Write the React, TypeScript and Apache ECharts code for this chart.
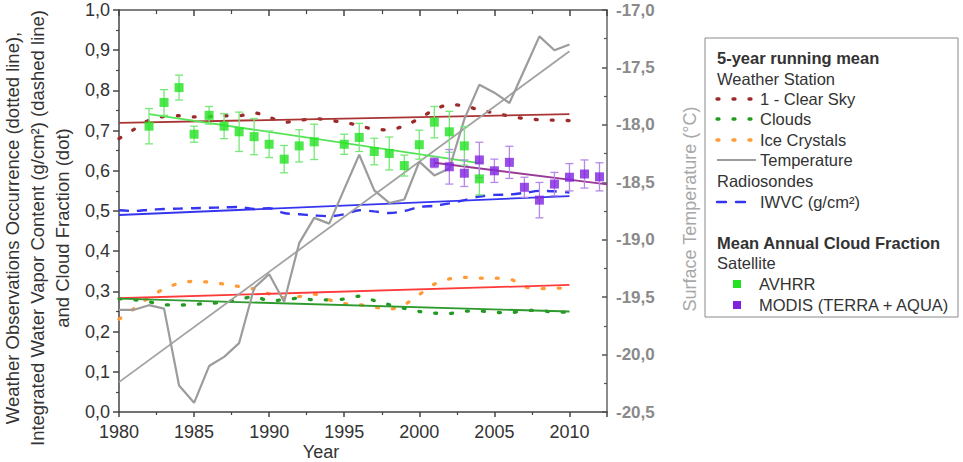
import React, { useEffect, useRef } from "react";
import * as echarts from "echarts";

// ---- data ----
const years = [1980, 1981, 1982, 1983, 1984, 1985, 1986, 1987, 1988, 1989, 1990, 1991, 1992, 1993, 1994, 1995, 1996, 1997, 1998, 1999, 2000, 2001, 2002, 2003, 2004, 2005, 2006, 2007, 2008, 2009, 2010];

// 5-year running means (weather station)
const clearSky = [0.680, 0.703, 0.726, 0.735, 0.737, 0.734, 0.735, 0.737, 0.737, 0.744, 0.733, 0.721, 0.725, 0.730, 0.726, 0.720, 0.713, 0.703, 0.702, 0.712, 0.730, 0.752, 0.764, 0.762, 0.751, 0.744, 0.736, 0.730, 0.727, 0.726, 0.725];
const clouds = [0.282, 0.279, 0.274, 0.267, 0.266, 0.268, 0.270, 0.273, 0.280, 0.287, 0.277, 0.279, 0.283, 0.279, 0.279, 0.281, 0.288, 0.277, 0.267, 0.258, 0.250, 0.246, 0.245, 0.251, 0.251, 0.248, 0.247, 0.252, 0.253, 0.248, 0.249];
const iceCrystals = [0.231, 0.257, 0.285, 0.306, 0.320, 0.325, 0.323, 0.318, 0.312, 0.306, 0.294, 0.284, 0.287, 0.293, 0.279, 0.270, 0.267, 0.261, 0.256, 0.267, 0.292, 0.318, 0.331, 0.335, 0.333, 0.333, 0.331, 0.312, 0.307, 0.308, 0.309];
const temperature = [-19.61, -19.61, -19.57, -19.60, -20.27, -20.42, -20.10, -20.02, -19.90, -19.42, -19.30, -19.54, -19.03, -18.81, -18.86, -18.56, -18.26, -18.57, -18.68, -18.65, -18.32, -18.44, -18.38, -17.95, -17.65, -17.72, -17.81, -17.52, -17.23, -17.35, -17.30];
// radiosondes
const iwvc = [0.502, 0.500, 0.503, 0.505, 0.506, 0.507, 0.508, 0.509, 0.510, 0.505, 0.507, 0.495, 0.492, 0.489, 0.487, 0.492, 0.502, 0.499, 0.495, 0.500, 0.510, 0.513, 0.519, 0.527, 0.536, 0.540, 0.541, 0.545, 0.550, 0.549, 0.546];

// satellite mean annual cloud fraction
const avhrrYears = [1982, 1983, 1984, 1985, 1986, 1987, 1988, 1989, 1990, 1991, 1992, 1993, 1995, 1996, 1997, 1998, 1999, 2000, 2001, 2002, 2003, 2004];
const avhrrValues = [0.711, 0.770, 0.807, 0.691, 0.738, 0.711, 0.697, 0.685, 0.666, 0.629, 0.662, 0.672, 0.666, 0.683, 0.648, 0.643, 0.613, 0.665, 0.721, 0.697, 0.662, 0.580];
const avhrrErrors = [0.044, 0.032, 0.031, 0.020, 0.022, 0.031, 0.049, 0.045, 0.033, 0.034, 0.040, 0.044, 0.025, 0.035, 0.033, 0.041, 0.026, 0.036, 0.039, 0.051, 0.048, 0.040];
const modisYears = [2001, 2002, 2003, 2004, 2005, 2006, 2007, 2008, 2009, 2010, 2011, 2012];
const modisValues = [0.620, 0.610, 0.594, 0.627, 0.600, 0.621, 0.559, 0.527, 0.567, 0.584, 0.592, 0.585];
const modisErrors = [0.012, 0.043, 0.033, 0.044, 0.029, 0.040, 0.025, 0.044, 0.029, 0.034, 0.035, 0.035];

// linear trends (start/end points)
const trendClearSkyX = [1980, 2010];
const trendClearSkyY = [0.719, 0.741];
const trendIceX = [1980, 2010];
const trendIceY = [0.283, 0.316];
const trendCloudsX = [1980, 2010];
const trendCloudsY = [0.282, 0.250];
const trendIwvcX = [1980, 2010];
const trendIwvcY = [0.490, 0.537];
const trendTempX = [1980, 2010];
const trendTempY = [-20.24, -17.36];
const trendAvhrrX = [1982, 2004];
const trendAvhrrY = [0.741, 0.619];
const trendModisX = [2001, 2012.5];
const trendModisY = [0.620, 0.566];

// axis ticks
const xMin = 1980, xMax = 2012.5, xStep = 5;
const yMin = 0, yMax = 1, yStep = 0.1;
const tMin = -20.5, tMax = -17.0, tStep = 0.5;

const FONT = "'Liberation Sans', Arial, Helvetica, sans-serif";

const C = {
  clearSky: "#9c2a2a",
  clearSkyTrend: "#a83434",
  clouds: "#229a22",
  cloudsTrend: "#2e9a2e",
  ice: "#ff9a35",
  iceTrend: "#ff3b3b",
  temp: "#9c9c9c",
  iwvc: "#3535f0",
  avhrr: "#22e222",
  avhrrTrend: "#55e455",
  avhrrErr: "#77e877",
  modis: "#7f22e0",
  modisTrend: "#9a3a96",
  modisErr: "#b58ae6",
};

const pair = (xs: number[], ys: number[]) => xs.map((x, i) => [x, ys[i]]);
const comma = (v: number) => v.toFixed(1).replace(".", ",");

const dotted = (color: string) => ({ color, width: 3.3, type: [2, 14] as number[], cap: "round" as const });

function errorBars(xs: number[], vs: number[], es: number[], color: string) {
  return {
    type: "custom",
    xAxisIndex: 0,
    yAxisIndex: 0,
    z: 8,
    silent: true,
    data: xs.map((x, i) => [x, vs[i] - es[i], vs[i] + es[i]]),
    encode: { x: 0, y: [1, 2] },
    renderItem: (_p: any, api: any) => {
      const x = api.value(0);
      const lo = api.coord([x, api.value(1)]);
      const hi = api.coord([x, api.value(2)]);
      const hw = 4;
      const style = { stroke: color, lineWidth: 1.3 };
      return {
        type: "group",
        children: [
          { type: "line", shape: { x1: lo[0], y1: lo[1], x2: hi[0], y2: hi[1] }, style },
          { type: "line", shape: { x1: lo[0] - hw, y1: lo[1], x2: lo[0] + hw, y2: lo[1] }, style },
          { type: "line", shape: { x1: hi[0] - hw, y1: hi[1], x2: hi[0] + hw, y2: hi[1] }, style },
        ],
      };
    },
  };
}

function trend(xs: number[], ys: number[], color: string, yAxisIndex = 0, width = 1.8) {
  return {
    type: "line",
    xAxisIndex: 0,
    yAxisIndex,
    data: pair(xs, ys),
    symbol: "none",
    silent: true,
    z: 4,
    lineStyle: { color, width },
  };
}

function buildOption() {
  const legendX = 717;
  const itemX = 760;
  const txt = (text: string, x: number, y: number, bold = false) => ({
    type: "text",
    x,
    y,
    style: {
      text,
      fill: "#333",
      font: `${bold ? "bold " : ""}16.5px ${FONT}`,
      verticalAlign: "middle",
      align: "left",
    },
  });
  const sampleLine = (y: number, x2: number, stroke: string, dash: number[] | null, width: number) => ({
    type: "line",
    shape: { x1: legendX, y1: y, x2, y2: y },
    style: { stroke, lineWidth: width, lineDash: dash || undefined, lineCap: dash ? "round" : "butt" },
  });
  const dotSample = (y: number, stroke: string) => ({
    type: "line",
    shape: { x1: legendX, y1: y, x2: 751, y2: y },
    style: { stroke, lineWidth: 3.3, lineDash: [2, 14], lineCap: "round" },
  });

  const graphic: any[] = [
    {
      type: "text",
      x: 37,
      y: 228,
      rotation: Math.PI / 2,
      style: {
        text: "Weather Observations Occurrence (dotted line),\nIntegrated Water Vapor Content (g/cm²) (dashed line)\nand Cloud Fraction (dot)",
        fill: "#333",
        font: `18.5px ${FONT}`,
        align: "center",
        verticalAlign: "middle",
        lineHeight: 25,
      },
    },
    {
      type: "text",
      x: 690,
      y: 209,
      rotation: Math.PI / 2,
      style: {
        text: "Surface Temperature (°C)",
        fill: "#a8a8a8",
        font: `18px ${FONT}`,
        align: "center",
        verticalAlign: "middle",
      },
    },
    {
      type: "text",
      x: 321,
      y: 452,
      style: { text: "Year", fill: "#333", font: `18px ${FONT}`, align: "center", verticalAlign: "middle" },
    },
    {
      type: "rect",
      shape: { x: 705, y: 38, width: 253, height: 279 },
      style: { fill: "#fff", stroke: "#8a8a8a", lineWidth: 1 },
    },
    txt("5-year running mean", legendX, 58, true),
    txt("Weather Station", legendX, 79),
    dotSample(99, C.clearSky),
    txt("1 - Clear Sky", itemX, 99),
    dotSample(119, C.clouds),
    txt("Clouds", itemX, 119),
    dotSample(140, C.ice),
    txt("Ice Crystals", itemX, 140),
    sampleLine(160, 756, C.temp, null, 2),
    txt("Temperature", itemX, 160),
    txt("Radiosondes", legendX, 181),
    sampleLine(202, 745, C.iwvc, [9, 10], 2.4),
    txt("IWVC (g/cm²)", itemX, 202),
    txt("Mean Annual Cloud Fraction", legendX, 243, true),
    txt("Satellite", legendX, 263),
    { type: "rect", shape: { x: 733, y: 280, width: 8, height: 8 }, style: { fill: C.avhrr } },
    txt("AVHRR", itemX - 1, 284),
    { type: "rect", shape: { x: 733, y: 301, width: 8, height: 8 }, style: { fill: C.modis } },
    txt("MODIS (TERRA + AQUA)", itemX - 1, 305),
  ];

  return {
    animation: false,
    backgroundColor: "#fff",
    textStyle: { fontFamily: FONT },
    grid: { left: 119, right: 356, top: 10, bottom: 50, containLabel: false },
    xAxis: [
      {
        type: "value",
        position: "bottom",
        min: xMin,
        max: xMax,
        interval: xStep,
        axisLine: { show: true, lineStyle: { color: "#444", width: 1.5 } },
        axisTick: { show: true, inside: false, length: 5, lineStyle: { color: "#444", width: 1.5 } },
        minorTick: { show: true, splitNumber: 2, length: 3, lineStyle: { color: "#444", width: 1.2 } },
        splitLine: { show: false },
        axisLabel: {
          fontSize: 18,
          color: "#333",
          margin: 11,
          fontFamily: FONT,
          showMaxLabel: false,
          formatter: (v: number) => (v % 5 === 0 ? String(v) : ""),
        },
      },
      {
        type: "value",
        position: "top",
        min: xMin,
        max: xMax,
        interval: xStep,
        axisLine: { show: true, lineStyle: { color: "#555", width: 1.5 } },
        axisTick: { show: true, inside: true, length: 6, lineStyle: { color: "#444", width: 1.5 } },
        minorTick: { show: true, splitNumber: 2, length: 4, lineStyle: { color: "#444", width: 1.2 } },
        splitLine: { show: false },
        axisLabel: { show: false },
      },
    ],
    yAxis: [
      {
        type: "value",
        position: "left",
        min: yMin,
        max: yMax,
        interval: yStep,
        axisLine: { show: true, lineStyle: { color: "#444", width: 1.5 } },
        axisTick: { show: true, inside: false, length: 6, lineStyle: { color: "#444", width: 1.5 } },
        minorTick: { show: true, splitNumber: 2, length: 3, lineStyle: { color: "#444", width: 1.2 } },
        splitLine: { show: false },
        axisLabel: { fontSize: 18, color: "#333", margin: 9, fontFamily: FONT, formatter: comma },
      },
      {
        type: "value",
        position: "right",
        min: tMin,
        max: tMax,
        interval: tStep,
        axisLine: { show: true, lineStyle: { color: "#666", width: 1.5 } },
        axisTick: { show: true, inside: true, length: 5, lineStyle: { color: "#555", width: 1.5 } },
        minorTick: { show: true, splitNumber: 2, length: 3, lineStyle: { color: "#555", width: 1.2 } },
        splitLine: { show: false },
        axisLabel: {
          fontSize: 17,
          color: "#8a8a8a",
          fontWeight: "bold",
          margin: 9,
          fontFamily: FONT,
          formatter: comma,
        },
      },
    ],
    graphic,
    series: [
      { type: "line", name: "1 - Clear Sky", data: pair(years, clearSky), symbol: "none", smooth: 0.3, z: 2, lineStyle: dotted(C.clearSky) },
      { type: "line", name: "Clouds", data: pair(years, clouds), symbol: "none", smooth: 0.3, z: 2, lineStyle: dotted(C.clouds) },
      { type: "line", name: "Ice Crystals", data: pair(years, iceCrystals), symbol: "none", smooth: 0.3, z: 2, lineStyle: dotted(C.ice) },
      {
        type: "line",
        name: "IWVC",
        data: pair(years, iwvc),
        symbol: "none",
        smooth: 0.3,
        z: 3,
        lineStyle: { color: C.iwvc, width: 2.4, type: [10, 8] },
      },
      trend(trendClearSkyX, trendClearSkyY, C.clearSkyTrend),
      trend(trendIceX, trendIceY, C.iceTrend),
      trend(trendCloudsX, trendCloudsY, C.cloudsTrend),
      trend(trendIwvcX, trendIwvcY, C.iwvc),
      trend(trendTempX, trendTempY, "#a2a2a2", 1, 1.8),
      {
        type: "line",
        name: "Temperature",
        yAxisIndex: 1,
        data: pair(years, temperature),
        symbol: "none",
        z: 5,
        lineStyle: { color: C.temp, width: 2.2 },
      },
      trend(trendAvhrrX, trendAvhrrY, C.avhrrTrend),
      trend(trendModisX, trendModisY, C.modisTrend),
      errorBars(avhrrYears, avhrrValues, avhrrErrors, C.avhrrErr),
      errorBars(modisYears, modisValues, modisErrors, C.modisErr),
      {
        type: "scatter",
        name: "AVHRR",
        data: pair(avhrrYears, avhrrValues),
        symbol: "rect",
        symbolSize: 9,
        z: 9,
        itemStyle: { color: C.avhrr },
      },
      {
        type: "scatter",
        name: "MODIS",
        data: pair(modisYears, modisValues),
        symbol: "rect",
        symbolSize: 9,
        z: 9,
        itemStyle: { color: C.modis },
      },
    ],
  };
}

export default function App() {
  const ref = useRef<HTMLDivElement>(null);
  useEffect(() => {
    document.body.style.margin = "0";
    const chart = echarts.init(ref.current as HTMLDivElement, null, { renderer: "svg" });
    chart.setOption(buildOption() as any);
    return () => chart.dispose();
  }, []);
  return <div ref={ref} style={{ width: 963, height: 462 }} />;
}
